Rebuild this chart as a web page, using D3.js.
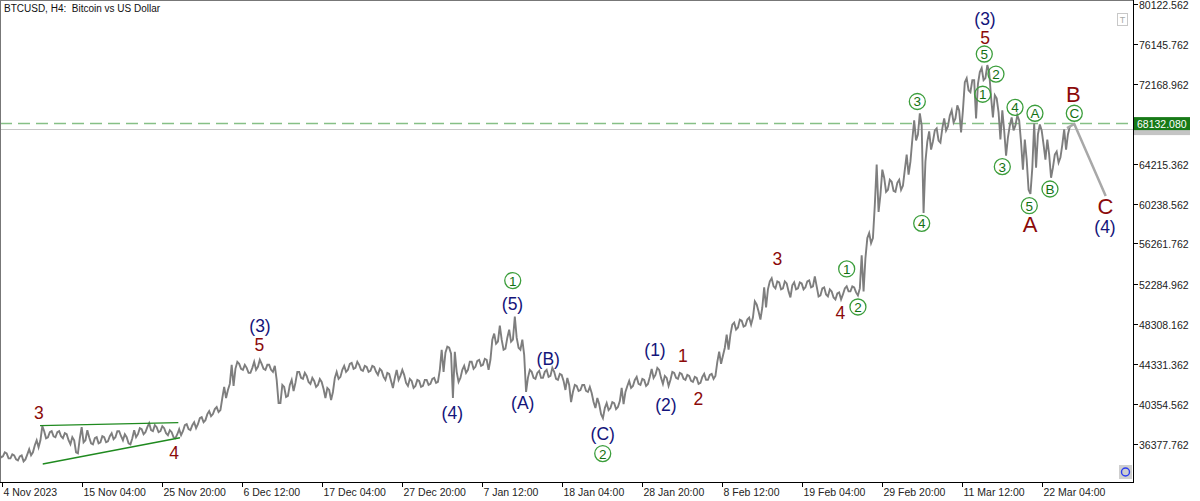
<!DOCTYPE html>
<html><head><meta charset="utf-8">
<script src="https://cdn.jsdelivr.net/npm/d3@7"></script>
<style>
html,body{margin:0;padding:0;background:#fff;}
svg{display:block;}
text{font-family:"Liberation Sans",Arial,sans-serif;}
</style></head><body>
<svg id="c" width="1200" height="501"></svg>
<script>
// ---------- DATA ----------
const firstBar = "2023-11-04T00:00:00Z";   // start of first 12h bucket
const bucketHours = 12;
// 12-hour highs / lows, thousands of USD
const highK = [
35.4,35.5,35.4,35.3,35.2,35.1,35.2,35.3,35.8,36.2,
36.7,38.1,37.6,37.5,37.6,37.5,37.6,37.4,37.3,37.0,
36.7,36.9,38.0,37.7,37.0,36.9,37.0,37.1,37.0,37.1,
37.4,37.6,37.6,37.3,37.0,36.9,37.7,37.9,37.8,38.0,
38.4,38.2,38.0,38.1,37.9,37.7,37.5,37.3,37.8,38.2,
38.3,38.2,38.5,38.9,39.0,39.3,39.6,39.8,40.0,40.9,
42.0,42.3,44.2,44.5,44.3,44.2,43.9,43.9,44.5,44.7,
44.3,44.2,44.2,44.1,42.7,42.2,42.0,42.2,42.7,43.5,
43.5,43.4,43.1,42.9,42.6,42.8,42.5,41.9,41.7,42.9,
43.5,43.7,44.1,44.3,44.4,44.5,44.2,44.1,44.0,44.1,
44.0,43.8,
43.6,43.4,43.3,42.9,43.7,43.7,43.2,42.8,42.6,
42.7,42.6,42.7,42.7,42.8,42.9,43.7,45.7,46.0,45.9,
45.5,43.5,43.7,44.1,44.5,44.5,44.6,44.7,44.8,44.7,
46.7,47.3,48.1,46.7,46.9,47.7,49.0,46.9,46.7,45.2,
43.7,43.5,43.4,43.6,43.5,43.7,43.9,43.5,43.3,43.2,
42.9,42.2,42.2,42.1,42.2,42.2,42.0,41.4,40.9,40.3,
39.9,40.4,40.5,40.4,40.6,41.9,42.1,42.6,42.7,43.0,
42.8,42.7,43.0,43.8,43.9,43.7,43.1,42.9,43.5,43.4,
43.4,43.3,43.2,43.1,43.0,42.9,43.0,43.3,43.2,43.3,
44.5,45.5,45.9,47.2,48.2,48.4,48.7,48.6,48.7,48.9,
50.5,50.2,49.9,51.9,52.5,52.8,52.5,52.4,52.5,52.3,
52.1,52.4,52.4,52.3,52.5,
52.6,53.0,52.0,51.8,51.9,51.7,
51.5,51.3,51.4,51.8,52.0,52.0,51.9,51.8,55.1,56.8,
57.3,60.1,64.1,63.6,62.8,62.6,62.4,62.3,62.6,63.6,
65.1,66.6,68.5,69.2,68.0,66.4,67.4,67.5,67.7,67.7,
68.7,69.0,69.5,70.0,69.5,72.3,72.7,72.5,72.5,73.3,
73.7,74.0,73.3,71.0,70.7,69.5,67.5,68.0,68.8,69.0,
68.5,66.6,64.6,63.8,68.2,68.1,67.5,66.6,65.1,65.1,
65.4,66.1,67.6,67.9];
const lowK = [
35.0,35.1,34.9,34.9,34.8,34.7,34.6,34.8,35.2,35.5,
36.0,36.7,36.9,37.0,37.1,37.0,37.1,36.9,36.7,36.3,
35.5,35.4,36.5,36.7,36.4,36.3,36.4,36.5,36.5,36.6,
36.8,37.0,37.1,36.7,36.4,36.3,37.0,37.3,37.3,37.5,
37.7,37.6,37.5,37.6,37.4,37.2,37.0,36.9,37.2,37.6,
37.8,37.7,37.9,38.3,38.5,38.7,39.1,39.3,39.5,39.7,
40.9,41.7,42.1,43.8,43.8,43.7,43.4,43.4,43.7,44.0,
43.8,43.7,43.7,43.5,40.4,40.4,41.0,41.1,41.6,42.4,
42.9,42.8,42.5,42.3,42.0,42.2,41.8,40.9,40.7,41.5,
42.8,43.0,43.5,43.7,43.8,43.9,43.7,43.6,43.5,43.6,
43.5,43.2,
43.0,42.7,42.6,41.9,42.7,43.1,42.4,42.1,41.9,
42.1,42.0,42.1,42.2,42.3,42.4,42.5,43.5,45.4,45.3,
40.9,42.5,42.9,43.4,43.7,43.8,44.0,44.1,44.2,43.7,
44.7,46.3,46.5,45.7,45.8,46.5,46.7,45.9,45.7,41.5,
42.9,42.9,42.8,42.9,42.9,43.0,43.1,42.8,42.7,42.6,
41.7,40.5,41.5,41.6,41.7,41.6,41.5,40.5,39.9,39.3,
38.9,39.7,39.9,39.8,40.0,40.3,41.5,41.9,42.1,42.3,
42.2,42.1,42.3,42.9,43.2,42.9,42.3,42.1,42.7,42.9,
42.8,42.8,42.7,42.6,42.5,42.3,42.4,42.7,42.7,42.8,
43.1,44.3,45.1,45.7,47.2,47.7,47.9,48.0,48.1,48.2,
48.9,49.5,48.7,49.9,51.7,52.0,51.8,51.7,51.8,51.5,
50.9,51.7,51.8,51.7,51.9,
51.9,52.0,51.0,51.1,51.2,51.0,
50.9,50.7,50.7,51.2,51.5,51.5,51.4,51.1,51.5,54.8,
56.3,56.8,59.4,61.1,61.4,61.6,61.5,61.4,61.6,62.0,
63.1,64.4,66.5,67.1,59.3,64.4,65.6,66.4,66.5,66.3,
67.5,67.9,68.3,68.7,67.3,69.5,71.5,71.3,68.7,72.1,
72.5,72.7,70.8,68.8,69.3,66.6,65.0,66.8,67.5,68.0,
66.3,63.6,61.6,61.2,63.8,67.1,66.1,64.6,62.8,63.8,
64.3,64.8,65.6,67.1];

const priceTicks = [80122.562,76145.762,72168.962,68192.162,64215.362,60238.562,56261.762,52284.962,48308.162,44331.362,40354.562,36377.762];
const timeTickDates = ["2023-11-04T12:00Z","2023-11-15T04:00Z","2023-11-25T20:00Z","2023-12-06T12:00Z","2023-12-17T04:00Z","2023-12-27T20:00Z","2024-01-07T12:00Z","2024-01-18T04:00Z","2024-01-28T20:00Z","2024-02-08T12:00Z","2024-02-19T04:00Z","2024-02-29T20:00Z","2024-03-11T12:00Z","2024-03-22T04:00Z"];
const timeTickLabels = ["4 Nov 2023","15 Nov 04:00","25 Nov 20:00","6 Dec 12:00","17 Dec 04:00","27 Dec 20:00","7 Jan 12:00","18 Jan 04:00","28 Jan 20:00","8 Feb 12:00","19 Feb 04:00","29 Feb 20:00","11 Mar 12:00","22 Mar 04:00"];

const askPrice = 68132.080;
const bidPrice = 67690;

// Elliott wave labels: [time, price, text]
const wavesRed = [
 ["2023-11-09T10:00Z",39450,"3"],["2023-11-27T11:00Z",35430,"4"],["2023-12-08T19:30Z",46170,"5"],
 ["2024-02-03T07:00Z",45080,"1"],["2024-02-05T08:00Z",40800,"2"],["2024-02-15T21:00Z",54770,"3"],
 ["2024-02-24T07:00Z",49350,"4"],["2024-03-14T13:40Z",76700,"5"]];
const wavesRedBig = [["2024-03-26T08:00Z",71030,"B"],["2024-03-20T13:40Z",58150,"A"],["2024-03-30T15:00Z",59940,"C"]];
const wavesBlue = [
 ["2023-12-08T21:40Z",48060,"(3)"],["2024-01-03T13:00Z",39410,"(4)"],["2024-01-11T13:40Z",50200,"(5)"],
 ["2024-01-12T22:20Z",40400,"(A)"],["2024-01-16T08:00Z",44730,"(B)"],["2024-01-23T14:20Z",37370,"(C)"],
 ["2024-01-30T13:40Z",45670,"(1)"],["2024-02-01T00:45Z",40200,"(2)"],["2024-03-14T13:40Z",78560,"(3)"],
 ["2024-03-30T13:40Z",57900,"(4)"]];
const wavesGreen = [
 ["2024-01-11T14:20Z",52580,"1"],["2024-01-23T14:20Z",35380,"2"],["2024-02-25T03:00Z",53730,"1"],
 ["2024-02-26T15:00Z",49950,"2"],["2024-03-05T13:00Z",70380,"3"],["2024-03-06T03:00Z",58270,"4"],
 ["2024-03-14T11:20Z",75100,"5"],["2024-03-16T00:45Z",73110,"2"],["2024-03-14T06:15Z",71100,"1"],
 ["2024-03-18T13:40Z",69800,"4"],["2024-03-21T05:30Z",69210,"A"],["2024-03-26T11:20Z",69210,"C"],
 ["2024-03-16T21:00Z",63900,"3"],["2024-03-20T11:20Z",60020,"5"],["2024-03-23T05:30Z",61680,"B"]];
// triangle boundary lines and projected path
const wedgeUpper = [["2023-11-09T13:40Z",38150],["2023-11-28T00:15Z",38445]];
const wedgeLower = [["2023-11-09T22:20Z",34340],["2023-11-28T05:30Z",36950]];
const projection = [["2024-03-25T12:00Z",67740],["2024-03-26T11:20Z",68140],["2024-03-30T15:50Z",60980]];

// ---------- CHART ----------
const W = 1133, H = 482;
const svg = d3.select("#c");
const x = d3.scaleUtc().domain([new Date("2023-11-04T00:00Z"), new Date("2024-03-22T04:00Z")]).range([-1.75, 1042]);
const y = d3.scaleLinear().domain([36377.762, 80122.562]).range([443.5, 3.5]);
const P = d => new Date(d);

svg.append("defs").append("clipPath").attr("id","clip").append("rect").attr("x",0).attr("y",0).attr("width",W).attr("height",H);
const plot = svg.append("g").attr("clip-path","url(#clip)");

// buckets
const t0 = new Date(firstBar).getTime();
const bars = highK.map((h,i)=>({t:new Date(t0 + (i*bucketHours + bucketHours/2)*3600e3), hi:h*1000, lo:lowK[i]*1000}));

// price level lines
plot.append("line").attr("x1",0).attr("x2",W).attr("y1",Math.round(y(bidPrice))+0.5).attr("y2",Math.round(y(bidPrice))+0.5)
  .attr("stroke","#c8c8c8").attr("stroke-width",1);
plot.append("line").attr("x1",0).attr("x2",W).attr("y1",Math.round(y(askPrice))-0.5).attr("y2",Math.round(y(askPrice))-0.5)
  .attr("stroke","#86c086").attr("stroke-width",1.5).attr("stroke-dasharray","12,6");

// price trace: each bucket drawn as a high→low stroke, strokes chained
const pts = [];
bars.forEach((d,i)=>{
  const cx = x(d.t);
  if(i%2===0){ pts.push([cx-0.95, y(d.hi)]); pts.push([cx+0.95, y(d.lo)]); }
  else       { pts.push([cx-0.95, y(d.lo)]); pts.push([cx+0.95, y(d.hi)]); }
});
plot.append("path").attr("d", d3.line()(pts)).attr("fill","none")
  .attr("stroke","#7e7e7e").attr("stroke-width",1.9).attr("stroke-linejoin","miter");

// wedge lines
const ln = d3.line().x(d=>x(P(d[0]))).y(d=>y(d[1]));
[wedgeUpper, wedgeLower].forEach(w=>plot.append("path").attr("d",ln(w)).attr("fill","none").attr("stroke","#1f8a1f").attr("stroke-width",1.3));
plot.append("path").attr("d",ln(projection)).attr("fill","none").attr("stroke","#a8a8a8").attr("stroke-width",2.5);

// wave labels
function lab(arr, color, size){
  plot.selectAll(null).data(arr).enter().append("text")
    .attr("x",d=>x(P(d[0]))).attr("y",d=>y(d[1])).attr("text-anchor","middle").attr("dominant-baseline","central")
    .attr("font-size",size).attr("fill",color).text(d=>d[2]);
}
lab(wavesRed,"#8b0a0a",17.5);
lab(wavesRedBig,"#8b0a0a",22);
lab(wavesBlue,"#14147a",17.5);
const g = plot.selectAll(null).data(wavesGreen).enter().append("g")
  .attr("transform",d=>`translate(${x(P(d[0]))},${y(d[1])})`);
g.append("circle").attr("r",8).attr("fill","none").attr("stroke","#3c9e3c").attr("stroke-width",1.3);
g.append("text").attr("text-anchor","middle").attr("dominant-baseline","central").attr("y",0.5)
  .attr("font-size",13.5).attr("fill","#137013").text(d=>d[2]);

// frame
svg.append("line").attr("x1",W+0.5).attr("x2",W+0.5).attr("y1",0).attr("y2",H+1).attr("stroke","#000");
svg.append("line").attr("x1",0).attr("x2",W+1).attr("y1",H+0.5).attr("y2",H+0.5).attr("stroke","#000");
svg.append("line").attr("x1",0.5).attr("x2",0.5).attr("y1",0).attr("y2",H).attr("stroke","#777");
svg.append("line").attr("x1",0).attr("x2",W).attr("y1",0.5).attr("y2",0.5).attr("stroke","#777");

// right axis
const ra = svg.append("g");
priceTicks.forEach(p=>{
  const yy = Math.round(y(p))+0.5;
  ra.append("line").attr("x1",W+1).attr("x2",W+5).attr("y1",yy).attr("y2",yy).attr("stroke","#000");
  ra.append("text").attr("x",W+6).attr("y",yy).attr("dominant-baseline","central").attr("font-size",10.5).attr("fill","#222").text(d3.format(".3f")(p));
});
// price tags (bid tag mostly hidden behind the ask tag)
const ty = y(askPrice);
ra.append("rect").attr("x",W+1).attr("y",ty+2).attr("width",56).attr("height",9).attr("fill","#c4c4c4");
ra.append("rect").attr("x",W+1).attr("y",ty-7).attr("width",56).attr("height",13).attr("fill","#177a17");
ra.append("text").attr("x",W+4).attr("y",ty-0.5).attr("dominant-baseline","central").attr("font-size",10.5).attr("fill","#fff").text(d3.format(".3f")(askPrice));

// bottom axis
const ba = svg.append("g");
timeTickDates.forEach((d,i)=>{
  const xx = Math.round(x(P(d)))+0.5;
  ba.append("line").attr("x1",xx).attr("x2",xx).attr("y1",H).attr("y2",H+5).attr("stroke","#000");
  ba.append("text").attr("x",xx+1).attr("y",496).attr("font-size",10.5).attr("fill","#222").text(timeTickLabels[i]);
});

// header
svg.append("text").attr("x",4).attr("y",12).attr("font-size",10).attr("fill","#111").attr("xml:space","preserve")
  .style("white-space","pre").text("BTCUSD, H4:  Bitcoin vs US Dollar");

// small icons
svg.append("rect").attr("x",1117.5).attr("y",13.5).attr("width",10).attr("height",12).attr("fill","#fff").attr("stroke","#c8c8c8");
svg.append("text").attr("x",1122.5).attr("y",20).attr("text-anchor","middle").attr("dominant-baseline","central").attr("font-size",9).attr("fill","#aaa").text("T");
svg.append("rect").attr("x",1119).attr("y",465).attr("width",13).attr("height",14).attr("fill","#cfcfcf");
svg.append("circle").attr("cx",1125.5).attr("cy",472).attr("r",4).attr("fill","none").attr("stroke","#2a3cf0").attr("stroke-width",1.4);
</script></body></html>
